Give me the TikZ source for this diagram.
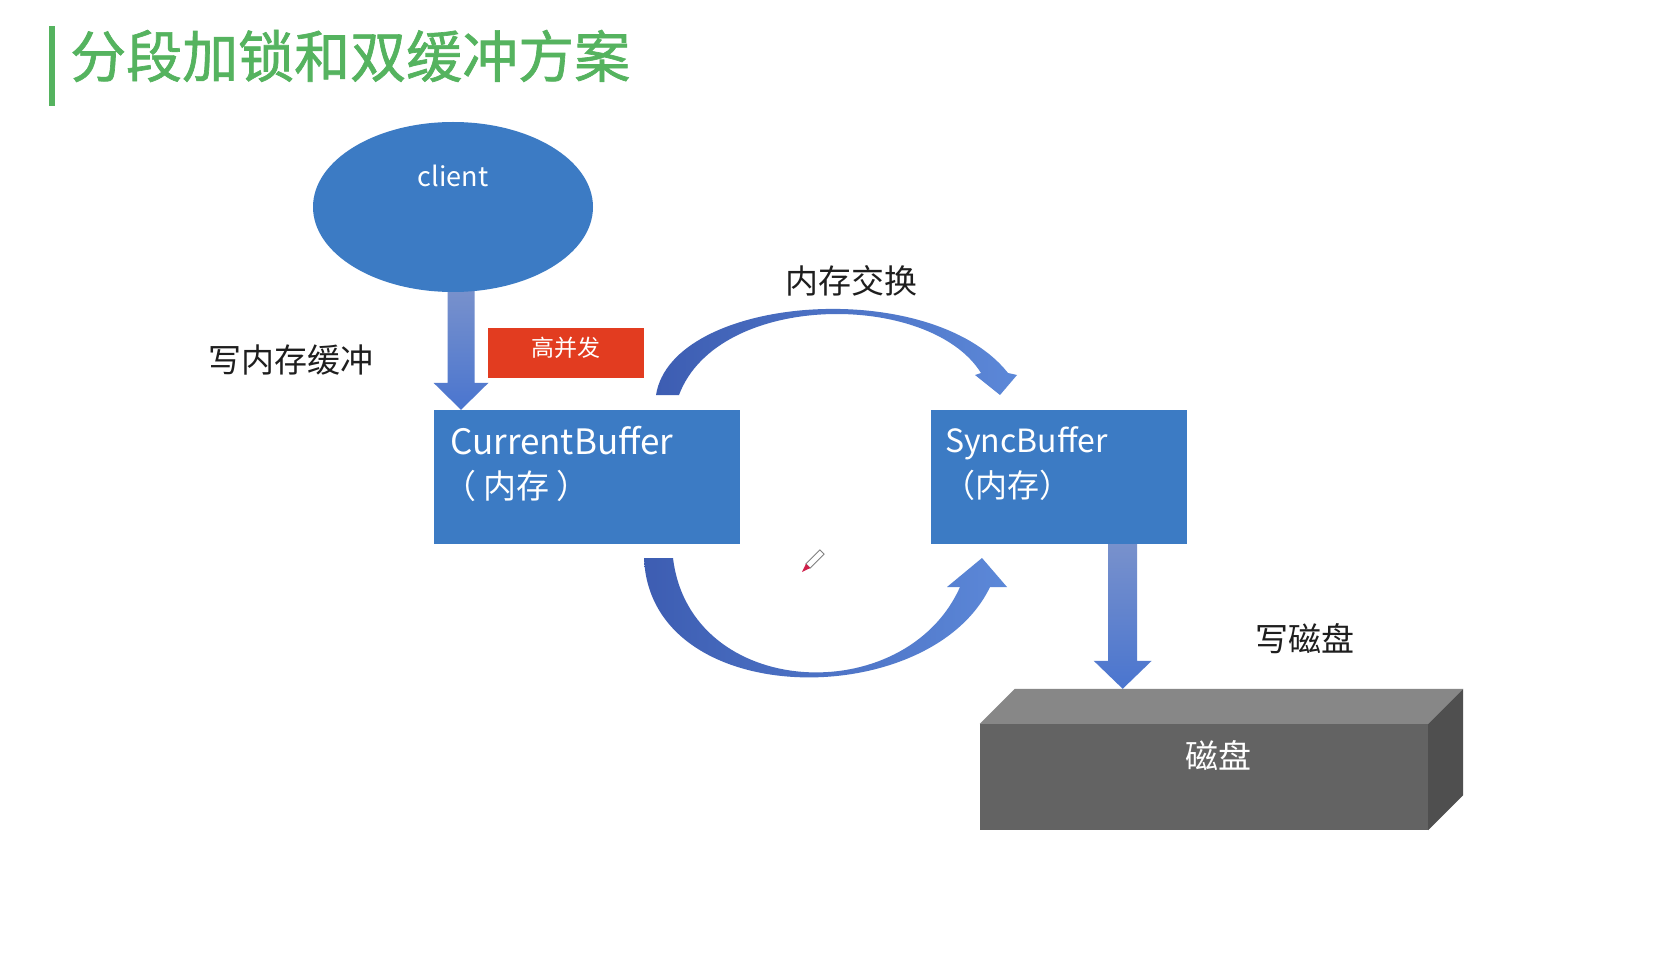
\documentclass[tikz,border=0pt]{standalone}
\usepackage{fontspec}
\setmainfont{Noto Sans CJK SC}
\newfontfamily\titlefont[FakeBold=1.2]{Noto Sans CJK SC}
\usetikzlibrary{shapes.geometric,calc}
\definecolor{boxblue}{HTML}{3C7BC4}
\definecolor{arrowdark}{HTML}{3D5DB2}
\definecolor{arrowlight}{HTML}{5C88D8}
\definecolor{shafttop}{HTML}{7891CC}
\definecolor{shaftbot}{HTML}{4A75CF}
\definecolor{hotred}{HTML}{E23C20}
\definecolor{titlegreen}{HTML}{55B35F}
\definecolor{diskfront}{HTML}{636363}
\definecolor{disktop}{HTML}{878787}
\definecolor{diskside}{HTML}{4F4F4F}
\definecolor{labelgray}{HTML}{1E1E1E}
\definecolor{penred}{HTML}{D0204A}
\newcommand\myfs[1]{\fontsize{#1pt}{#1pt}\selectfont}
\begin{document}
\begin{tikzpicture}[x=1pt,y=-1pt,
  lbl/.style={inner sep=0pt, text=labelgray},
  wlbl/.style={inner sep=0pt, text=white},
  bluebox/.style={rectangle, fill=boxblue, inner sep=0pt},
  fatdown/.style={top color=shafttop, bottom color=shaftbot},
  curvearrow/.style={left color=arrowdark, right color=arrowlight},
]
\fill[white] (0,0) rectangle (1662,976);
\useasboundingbox (0,0) rectangle (1662,976);

% title
\fill[titlegreen] (49,26) rectangle (55,106);
\node[inner sep=0pt, anchor=west, text=titlegreen, font=\titlefont\myfs{56}] (title) at (70,56) {分段加锁和双缓冲方案};

% nodes
\node[bluebox, minimum width=306pt, minimum height=134pt] (cb) at (587,477) {};
\node[bluebox, minimum width=256pt, minimum height=134pt] (sb) at (1059,477) {};
\node[rectangle, fill=diskfront, minimum width=448pt, minimum height=106pt, inner sep=0pt] (disk) at (1204,777) {};
\fill[disktop] (disk.north west) -- ++(35,-35) -- ($(disk.north east)+(35,-35)$) -- (disk.north east) -- cycle;
\fill[diskside] (disk.north east) -- ++(35,-35) -- ($(disk.south east)+(35,-35)$) -- (disk.south east) -- cycle;

% client -> CurrentBuffer fat arrow
\node[ellipse, minimum width=280pt, minimum height=170pt, inner sep=0pt] (clientshape) at (453,207) {};
\coordinate (a1) at ($(clientshape.south)+(8,-2)$);
\coordinate (a2) at (a1 |- cb.north);
\shade[fatdown] ($(a1)+(-13.5,0)$) -- ($(a2)+(-13.5,-27)$) -- ($(a2)+(-27.5,-27)$) -- (a2)
  -- ($(a2)+(27.5,-27)$) -- ($(a2)+(13.5,-27)$) -- ($(a1)+(13.5,0)$) -- cycle;
\node[ellipse, fill=boxblue, minimum width=280pt, minimum height=170pt, inner sep=0pt] (client) at (453,207) {};
\node[wlbl, font=\myfs{27}] (clienttext) at (453,176) {client};

% SyncBuffer -> disk fat arrow
\coordinate (b1) at ($(sb.south east)+(-64.5,0)$);
\coordinate (b2) at ($(b1 |- disk.north)+(0,-35)$);
\shade[fatdown] ($(b1)+(-14.5,0)$) -- ($(b2)+(-14.5,-28)$) -- ($(b2)+(-29,-28)$) -- (b2)
  -- ($(b2)+(29,-28)$) -- ($(b2)+(14.5,-28)$) -- ($(b1)+(14.5,0)$) -- cycle;

% curved swap arrows
\shade[curvearrow] (656,395) .. controls (672,295) and (930,275) .. (1008,373) -- (1017,375) -- (1000,395)
  -- (975,375) -- (981,373) .. controls (930,291) and (718,291) .. (679,395) -- cycle;
\shade[curvearrow] (644,558) .. controls (650,712) and (930,712) .. (990,587) -- (1007,587) -- (982,558)
  -- (947,587) -- (960,587) .. controls (905,710) and (690,700) .. (673,558) -- cycle;

% texts in boxes
\node[wlbl, anchor=west, font=\myfs{35}] (cbt1) at (450,441) {CurrentBuffer};
\node[wlbl, anchor=west, font=\myfs{33}] (cbt2) at (443,486) {（ 内存 ）};
\node[wlbl, anchor=west, font=\myfs{32}] (sbt1) at (945,443) {SyncBuffer};
\node[wlbl, anchor=west, font=\myfs{32}] (sbt2) at (943,485) {（内存）};

% red tag
\node[rectangle, fill=hotred, minimum width=156pt, minimum height=50pt, inner sep=0pt] (hot) at (566,353) {};
\node[wlbl, font=\myfs{23}] (hottext) at (566,348) {高并发};

% labels
\node[lbl, font=\myfs{33}] (writemem) at (291,360) {写内存缓冲};
\node[lbl, font=\myfs{33}] (swap) at (851,281) {内存交换};
\node[lbl, font=\myfs{33}] (writedisk) at (1305,639) {写磁盘};
\node[wlbl, font=\myfs{33}] (disktext) at (1218,756) {磁盘};

% pen cursor
\filldraw[draw=gray, fill=white, line width=0.8pt] (810.1,568.1) -- (824.1,554.1) -- (819.9,549.9) -- (805.9,563.9) -- cycle;
\fill[penred] (805.9,563.9) -- (810.1,568.1) -- (802,572) -- cycle;
\end{tikzpicture}
\end{document}
